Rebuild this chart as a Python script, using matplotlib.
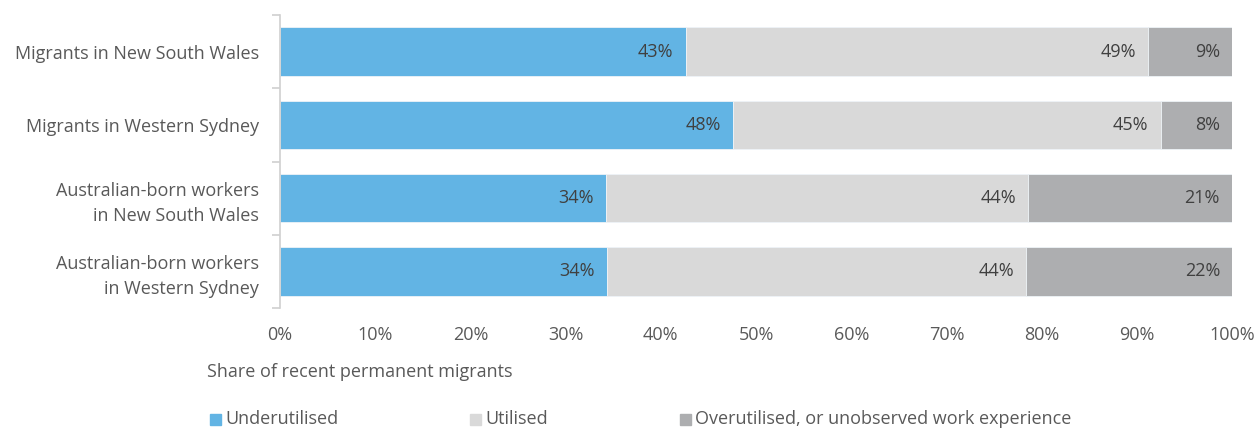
import matplotlib.pyplot as plt
from matplotlib.patches import Rectangle

plt.rcParams['font.family'] = ['Open Sans', 'DejaVu Sans']

groups = ["Migrants in New South Wales", "Migrants in Western Sydney",
          "Australian-born workers\nin New South Wales",
          "Australian-born workers\nin Western Sydney"]
underutilised = [42.6, 47.6, 34.2, 34.3]
utilised = [48.6, 44.9, 44.4, 44.1]
overutilised = [8.8, 7.5, 21.4, 21.6]
series_names = ["Underutilised", "Utilised",
                "Overutilised, or unobserved work experience"]
colours = ["#62B4E4", "#D9D9D9", "#ADAEB0"]
ticks = list(range(0, 101, 10))

txt = "#595959"
fs = 13
fig = plt.figure(figsize=(12.57, 4.28), dpi=100)
ax = fig.add_axes([280 / 1257, 1 - 308 / 428, 952 / 1257, 293 / 428])

ypos = list(range(len(groups)))
left = [0] * len(groups)
for vals, col in zip([underutilised, utilised, overutilised], colours):
    bars = ax.barh(ypos, vals, left=left, height=0.66, color=col,
                   edgecolor="#EEF3F7", linewidth=0.6)
    for b, v in zip(bars, vals):
        ax.text(b.get_x() + b.get_width() - 12 / 9.52, b.get_y() + b.get_height() / 2,
                f"{round(v):.0f}%", ha="right", va="center", fontsize=fs, color="#404040")
    left = [l + v for l, v in zip(left, vals)]

ax.set_xlim(0, 100)
ax.set_ylim(len(groups) - 0.5, -0.5)
ax.set_yticks(ypos)
ax.set_yticklabels(groups, fontsize=fs, color=txt, linespacing=1.5)
ax.set_yticks([i - 0.5 for i in range(len(groups) + 1)], minor=True)
ax.tick_params(axis="y", which="major", length=0, pad=15)
ax.tick_params(axis="y", which="minor", length=6, color="#D0D0D0", width=1.2)
ax.set_xticks(ticks)
ax.set_xticklabels([f"{t}%" for t in ticks], fontsize=fs, color=txt)
ax.tick_params(axis="x", length=0, pad=13)
for s in ["top", "right", "bottom"]:
    ax.spines[s].set_visible(False)
ax.spines["left"].set_color("#D0D0D0")
ax.spines["left"].set_linewidth(1.2)

fig.text(207 / 1257, 1 - 372 / 428, "Share of recent permanent migrants",
         fontsize=fs, color=txt, ha="left", va="center")

# legend along the bottom edge
legend_x = [210, 470, 680]
for x, name, col in zip(legend_x, series_names, colours):
    fig.patches.append(Rectangle((x / 1257, 1 - 425 / 428), 11 / 1257, 11 / 428,
                                 transform=fig.transFigure, color=col))
    fig.text((x + 15) / 1257, 1 - 419 / 428, name, fontsize=fs, color=txt,
             ha="left", va="center")

fig.savefig("out.png", dpi=100)
